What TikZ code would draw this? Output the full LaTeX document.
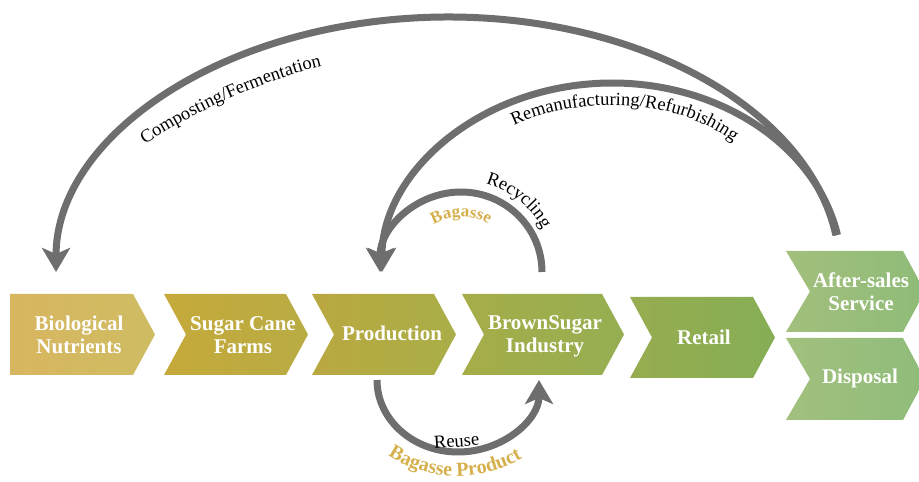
\documentclass[tikz,border=0pt]{standalone}
\usepackage{fontspec}
\setmainfont{Liberation Serif}
\usetikzlibrary{arrows.meta,decorations.text}
\definecolor{flowgrey}{HTML}{6E6E6E}
\definecolor{bagassegold}{HTML}{D6B04C}
\definecolor{bioL}{HTML}{D8B660}\definecolor{bioR}{HTML}{CEBC62}
\definecolor{sugL}{HTML}{C6A93A}\definecolor{sugR}{HTML}{B8AC44}
\definecolor{proL}{HTML}{BAA841}\definecolor{proR}{HTML}{A9AE48}
\definecolor{broL}{HTML}{A6AD48}\definecolor{broR}{HTML}{95AE52}
\definecolor{retL}{HTML}{97AC50}\definecolor{retR}{HTML}{86AE55}
\definecolor{aftL}{HTML}{A3BF7C}\definecolor{aftR}{HTML}{8EBC78}
\definecolor{disL}{HTML}{A2C07E}\definecolor{disR}{HTML}{8FBC7A}
\begin{document}
\begin{tikzpicture}[x=1pt,y=1pt,
  flow/.style={draw=flowgrey, line width=7pt, -{Stealth[length=24pt,width=28pt,inset=6pt]}},
  chevtext/.style={text=white, font=\bfseries\fontsize{21}{23}\selectfont, align=center, inner sep=0pt},
  lbl/.style={font=\fontsize{18.5}{20}\selectfont, text=black, inner sep=0pt},
  curvedlbl/.style={decorate, decoration={text along path, text align=center, text={|\fontsize{18.5}{20}\selectfont|#1}}},
  curvedgold/.style 2 args={decorate, decoration={text along path, text align=center, text color=bagassegold, text={|\bfseries\fontsize{#1}{#1}\selectfont|#2}}}
]
\useasboundingbox (0,0) rectangle (919,482);
\fill[white] (0,0) rectangle (919,482);

% chevrons
\path[left color=bioL, right color=bioR] (10,188)--(133,188)--(155,147.5)--(133,107)--(10,107)--cycle;
\path[left color=sugL, right color=sugR] (164,188)--(286,188)--(308,147.5)--(286,107)--(164,107)--(186,147.5)--cycle;
\path[left color=proL, right color=proR] (312,188)--(434,188)--(456,147.5)--(434,107)--(312,107)--(334,147.5)--cycle;
\path[left color=broL, right color=broR] (462,188)--(602,188)--(624,147.5)--(602,107)--(462,107)--(484,147.5)--cycle;
\path[left color=retL, right color=retR] (630,185)--(753,185)--(775,144.5)--(753,104)--(630,104)--(652,144.5)--cycle;
\path[left color=aftL, right color=aftR] (786,231)--(903,231)--(925,190.5)--(903,150)--(786,150)--(810,190.5)--cycle;
\path[left color=disL, right color=disR] (786,144)--(903,144)--(925,103)--(903,62)--(786,62)--(810,103)--cycle;

\node[chevtext] (bio) at (79,147) {Biological\\Nutrients};
\node[chevtext] (sugar) at (243,147) {Sugar Cane\\Farms};
\node[chevtext] (prod) at (392,149) {Production};
\node[chevtext] (brown) at (545,146) {BrownSugar\\Industry};
\node[chevtext] (retail) at (704,145) {Retail};
\node[chevtext] (after) at (861,190) {After-sales\\Service};
\node[chevtext] (disp) at (860,104) {Disposal};

% connectors
\coordinate (cfStart) at (835.9,246.8);
\coordinate (rmStart) at (837.5,247);
\coordinate (rcStart) at (542,210);
\coordinate (ruStart) at (377,102);
\draw[flow] (cfStart) arc[start angle=8.3, end angle=180, x radius=392, y radius=255];
\draw[flow] (rmStart) arc[start angle=11.3, end angle=180, x radius=230, y radius=189];
\draw[flow] (rcStart) arc[start angle=0, end angle=180, x radius=81, y radius=80];
\draw[flow] (ruStart) arc[start angle=180, end angle=360, x radius=81, y radius=72];

% labels
\path[curvedlbl={Composting/Fermentation}] (136,332) .. controls (190,368) and (262,403) .. (332,418);
\path[curvedlbl={Remanufacturing/Refurbishing}] (504,351) .. controls (570,388) and (680,388) .. (742,333);
\path[curvedlbl={Recycling}] (461,210) ++(78:92) arc[start angle=78, end angle=24, radius=92];
\path[curvedgold={17}{Bagasse}] (461,210) ++(125:55) arc[start angle=125, end angle=55, radius=55];
\path[curvedgold={20}{Bagasse Product}] (457,134) ++(222:128) arc[start angle=222, end angle=316, radius=128];
\node[lbl, rotate=4, anchor=base] (reuse) at (457,35) {Reuse};
\end{tikzpicture}
\end{document}
